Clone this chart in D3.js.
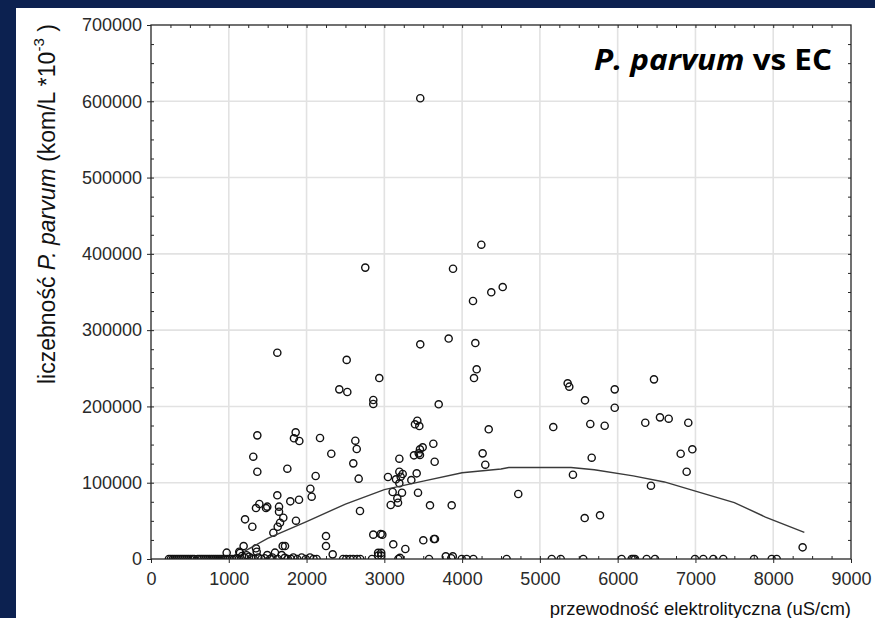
<!DOCTYPE html>
<html>
<head>
<meta charset="utf-8">
<script src="https://cdn.jsdelivr.net/npm/d3@7"></script>
<style>
  html, body { margin: 0; padding: 0; background: #0c2150; }
  #chart-container { width: 875px; height: 618px; }
  svg { display: block; }
  .tick-label text { font-family: 'Liberation Sans', Arial, sans-serif; font-size: 18px; fill: #2a2a2a; }
</style>
</head>
<body>
<div id="chart-container"></div>
<script>
// EC (uS/cm) vs P. parvum count
const samples = [
    [3462, 604000], [4247, 412000], [2755, 382000], [3883, 380500], [4522, 356500],
    [4375, 349600], [4140, 338200], [3827, 289000], [3462, 281400], [4170, 283100],
    [1624, 270400], [2516, 261000], [4187, 248700], [4153, 237200], [2935, 237200],
    [2421, 222400], [2524, 218900], [2858, 208400], [2858, 203200], [3699, 202800],
    [3424, 181300], [3394, 176600], [3450, 174300], [4342, 170000], [1860, 166000],
    [1367, 162100], [1838, 158200], [2173, 158600], [1907, 154700], [2627, 155100],
    [3630, 151100], [3493, 146400], [3458, 143800], [2645, 144200], [3442, 138500],
    [4264, 138500], [2318, 138000], [3381, 135900], [3458, 136300], [1315, 134100],
    [3193, 131500], [3647, 127500], [2601, 125400], [4298, 123600], [1753, 118400],
    [1367, 114400], [3193, 114400], [3416, 112300], [3236, 111400], [2117, 108800],
    [3210, 107900], [3047, 107500], [2670, 105300], [3150, 104500], [3347, 103500],
    [3193, 99200], [2049, 92100], [3107, 87800], [3227, 86900], [3433, 86900],
    [4722, 85200], [1624, 83500], [2066, 81700], [3167, 79600], [1903, 77700],
    [1791, 75600], [3176, 73800], [1393, 72100], [3082, 70800], [3587, 70400],
    [3866, 70400], [1495, 68600], [1646, 68600], [1479, 66800], [1350, 66800],
    [2687, 62900], [1646, 62000], [1701, 54100], [1209, 52000], [1864, 50200],
    [1659, 47600], [1629, 42300], [1303, 42300], [1573, 34500], [2858, 31900],
    [2953, 32800], [2974, 31900], [2250, 30100], [3638, 26200], [3651, 26200],
    [3501, 24500], [3115, 19300], [1191, 17000], [1693, 17000], [1723, 17000],
    [2250, 17000], [1350, 14000], [3270, 13100], [973, 8300], [2336, 6100],
    [6467, 235500], [5357, 230300], [5378, 225900], [5962, 222400], [5580, 208000],
    [5962, 198300], [6544, 185700], [6656, 183900], [6355, 178600], [6908, 178600],
    [5648, 177000], [5833, 174700], [5172, 173000], [6960, 143800], [6810, 138000],
    [5666, 132800], [6887, 114400], [5425, 110500], [6428, 96100], [5773, 57300],
    [5576, 53700], [8378, 15300],
    [230, 0], [255, 0], [280, 0], [305, 0], [330, 0], [355, 0], [380, 0], [405, 0],
    [430, 0], [455, 0], [480, 0], [505, 0], [530, 0], [555, 0], [600, 0], [625, 0],
    [650, 0], [675, 0], [700, 0], [725, 0], [750, 0], [775, 0], [800, 0], [825, 0],
    [850, 0], [875, 0], [900, 0], [925, 0], [950, 0], [980, 0], [1010, 0], [1040, 0],
    [1070, 0], [1100, 1000], [1130, 0], [1135, 9600], [1144, 8000], [1170, 4000],
    [1200, 2000], [1230, 5000], [1260, 3000], [1290, 1000], [1320, 0], [1359, 9600],
    [1380, 2000], [1420, 0], [1460, 1000], [1495, 5200], [1530, 0], [1560, 2000],
    [1594, 8300], [1630, 0], [1680, 5200], [1720, 1500], [1760, 0], [1800, 0],
    [1830, 2000], [1880, 0], [1937, 2000], [1990, 0], [2044, 2000], [2090, 0], [2130, 0],
    [2470, 0], [2510, 0], [2560, 0], [2600, 0], [2650, 0], [2690, 0], [2841, 0],
    [2920, 8000], [2920, 4500], [2960, 8000], [2960, 4500], [3180, 0], [3200, 1500],
    [3575, 0], [3790, 3500], [3880, 3500], [3860, 1000], [3995, 0], [4059, 0], [4145, 0],
    [4573, 0], [5152, 0], [5268, 0], [5558, 0], [6051, 0], [6180, 0], [6201, 0],
    [6223, 0], [6373, 0], [6480, 0], [6994, 0], [7101, 0], [7230, 0], [7358, 0],
    [7753, 0], [7980, 0], [8045, 0]
]

// fitted curve
const fitEc = [1200, 1500, 2000, 2500, 3000, 3500, 4000, 4500, 4600, 5400, 5700, 6200, 6600, 7000, 7500, 7900, 8400]
const fitCount = [10000, 27000, 49000, 72000, 91000, 102000, 113000, 118000, 120000, 120000, 117000, 109000, 101000, 89000, 74000, 55000, 35000]

const xTickValues = [0, 1000, 2000, 3000, 4000, 5000, 6000, 7000, 8000, 9000]
const yTickValues = [0, 100000, 200000, 300000, 400000, 500000, 600000, 700000]

class ChartPlotter {
    constructor(options) {
        this.width = options.width
        this.height = options.height
        this.left = 151
        this.right = 851
        this.top = 25
        this.bottom = 559

        this.gridColor = '#e2e2e2'
        this.frameColor = '#262626'
        this.dotRadius = 3.6
        this.fontFamily = "'Liberation Sans', Arial, sans-serif"

        this.xScale = d3.scaleLinear().domain([0, 9000]).range([this.left, this.right])
        this.yScale = d3.scaleLinear().domain([0, 700000]).range([this.bottom, this.top])

        this.svg = d3.select('#chart-container')
            .append('svg')
            .attr('width', this.width)
            .attr('height', this.height)
    }

    plot() {
        this.#createBackground()
        this.#createGrid()
        this.#createMinorTicks()
        this.#createAxes()
        this.#plotData()
        this.#plotFit()
        this.#createFrame()
        this.#createLabels()
    }

    #createBackground() {
        this.svg.append('rect')
            .attr('width', this.width).attr('height', this.height)
            .attr('fill', '#0c2150')
        this.svg.append('rect')
            .attr('x', 16).attr('y', 8)
            .attr('width', this.width - 16).attr('height', this.height - 8)
            .attr('fill', 'white')
        // points sitting on zero are cut by the plot frame
        this.svg.append('clipPath')
            .attr('id', 'plot-clip')
            .append('rect')
            .attr('x', this.left).attr('y', this.top)
            .attr('width', this.right - this.left)
            .attr('height', this.bottom - this.top)
    }

    #createGrid() {
        const grid = this.svg.append('g').attr('id', 'grid')
        grid.selectAll('.vgrid')
            .data(xTickValues.slice(1, -1))
            .enter().append('line')
            .attr('x1', d => this.xScale(d)).attr('x2', d => this.xScale(d))
            .attr('y1', this.top).attr('y2', this.bottom)
            .attr('stroke', this.gridColor).attr('stroke-width', 1.6)
        grid.selectAll('.hgrid')
            .data(yTickValues.slice(1, -1))
            .enter().append('line')
            .attr('x1', this.left).attr('x2', this.right)
            .attr('y1', d => this.yScale(d)).attr('y2', d => this.yScale(d))
            .attr('stroke', this.gridColor).attr('stroke-width', 1.6)
    }

    #createMinorTicks() {
        const xMinor = d3.range(250, 9000, 250)
        const yMinor = d3.range(25000, 700000, 25000)
        const style = g => {
            g.select('.domain').remove()
            g.selectAll('line').attr('stroke', this.frameColor)
        }
        this.svg.append('g')
            .attr('transform', `translate(0, ${this.top})`)
            .call(d3.axisTop(this.xScale).tickValues(xMinor).tickSize(-3).tickFormat(''))
            .call(style)
        this.svg.append('g')
            .attr('transform', `translate(0, ${this.bottom})`)
            .call(d3.axisBottom(this.xScale).tickValues(xMinor).tickSize(-3).tickFormat(''))
            .call(style)
        this.svg.append('g')
            .attr('transform', `translate(${this.left}, 0)`)
            .call(d3.axisLeft(this.yScale).tickValues(yMinor).tickSize(-3).tickFormat(''))
            .call(style)
        this.svg.append('g')
            .attr('transform', `translate(${this.right}, 0)`)
            .call(d3.axisRight(this.yScale).tickValues(yMinor).tickSize(-3).tickFormat(''))
            .call(style)
    }

    #createAxes() {
        const xAxis = d3.axisBottom(this.xScale)
            .tickValues(xTickValues)
            .tickFormat(d3.format('d'))
            .tickSize(4)
            .tickPadding(9)
        this.svg.append('g')
            .attr('class', 'tick-label')
            .attr('transform', `translate(0, ${this.bottom})`)
            .call(xAxis)
            .call(g => g.select('.domain').remove())
            .call(g => g.selectAll('line').attr('stroke', this.frameColor))

        const yAxis = d3.axisLeft(this.yScale)
            .tickValues(yTickValues)
            .tickFormat(d3.format('d'))
            .tickSize(4)
            .tickPadding(5)
        this.svg.append('g')
            .attr('class', 'tick-label')
            .attr('transform', `translate(${this.left}, 0)`)
            .call(yAxis)
            .call(g => g.select('.domain').remove())
            .call(g => g.selectAll('line').attr('stroke', this.frameColor))
    }

    #plotData() {
        this.svg.append('g').attr('id', 'points')
            .attr('clip-path', 'url(#plot-clip)')
            .selectAll('circle')
            .data(samples)
            .enter().append('circle')
            .attr('cx', d => this.xScale(d[0]))
            .attr('cy', d => this.yScale(d[1]))
            .attr('r', this.dotRadius)
            .attr('fill', 'none')
            .attr('stroke', '#111')
            .attr('stroke-width', 1.4)
    }

    #plotFit() {
        const line = d3.line()
            .x((d, i) => this.xScale(fitEc[i]))
            .y(d => this.yScale(d))
        this.svg.append('path')
            .datum(fitCount)
            .attr('d', line)
            .attr('fill', 'none')
            .attr('stroke', '#3a3a3a')
            .attr('stroke-width', 1.4)
    }

    #createFrame() {
        this.svg.append('rect')
            .attr('x', this.left).attr('y', this.top)
            .attr('width', this.right - this.left)
            .attr('height', this.bottom - this.top)
            .attr('fill', 'none')
            .attr('stroke', this.frameColor)
            .attr('stroke-width', 1.3)
    }

    #createLabels() {
        this.svg.append('text')
            .attr('x', this.right)
            .attr('y', 614.5)
            .attr('text-anchor', 'end')
            .attr('font-family', this.fontFamily)
            .attr('font-size', 18.5)
            .attr('fill', '#111')
            .text('przewodność elektrolityczna (uS/cm)')

        const yTitle = this.svg.append('text')
            .attr('id', 'y-title')
            .attr('transform', 'translate(55, 384) rotate(-90)')
            .attr('font-family', this.fontFamily)
            .attr('font-size', 23)
            .attr('fill', '#111')
        yTitle.append('tspan').text('liczebność ')
        yTitle.append('tspan').attr('font-style', 'italic').text('P. parvum')
        yTitle.append('tspan').text(' (kom/L *10')
        yTitle.append('tspan').attr('font-size', 15).attr('dy', -11).text('-3')
        yTitle.append('tspan').attr('dy', 11).text(' )')

        const title = this.svg.append('text')
            .attr('x', 832)
            .attr('y', 70)
            .attr('text-anchor', 'end')
            .attr('font-family', "'Open Sans', Lato, sans-serif")
            .attr('font-weight', 'bold')
            .attr('font-size', 29)
            .attr('textLength', 238)
            .attr('lengthAdjust', 'spacingAndGlyphs')
            .attr('fill', 'black')
        title.append('tspan').attr('font-style', 'italic').text('P. parvum')
        title.append('tspan').text(' vs EC')
    }
}

new ChartPlotter({ width: 875, height: 618 }).plot()
</script>
</body>
</html>
